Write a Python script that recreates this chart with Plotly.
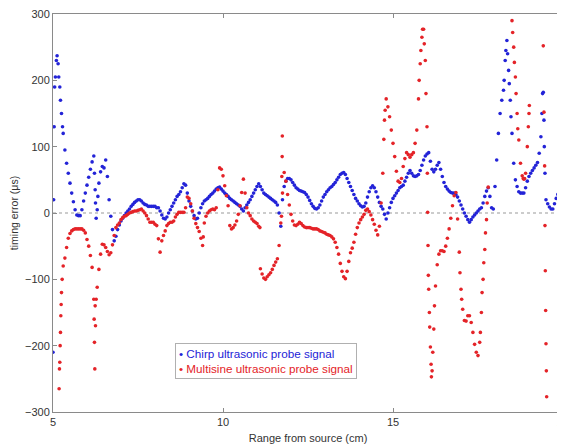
import plotly.graph_objects as go

# ---- data (x grid: 5.00 .. 20.00 step 0.05) ----
x_start = 5.0
x_step = 0.05
x_ticks = [5, 10, 15, 20]
y_ticks = [-300, -200, -100, 0, 100, 200, 300]
series_names = ["Chirp ultrasonic probe signal", "Multisine ultrasonic probe signal"]

chirp_y = [
    -210, 190, 230, 225, 190, 150, 120, 95, 75, 60, 45, 30, 17, 5, -3, -4, -4, 5, 18, 30,
    42, 54, 66, 77, 86, 15, 5, 45, 62, 70, 68, 80, 55, 20, -5, -25, -42, -35, -25, -18,
    -12, -8, -4, 0, 3, 6, 10, 13, 16, 18, 20, 20, 18, 15, 13, 12, 10, 10, 10, 10,
    10, 8, 8, 3, -3, -8, -9, -6, 0, 5, 10, 15, 20, 25, 28, 32, 38, 44, 42, 30,
    18, 10, 3, -4, -9, -8, 0, 8, 14, 18, 20, 22, 25, 28, 30, 33, 36, 38, 39, 36,
    33, 30, 28, 25, 22, 20, 18, 16, 14, 12, 10, 6, 3, 8, 12, 16, 20, 25, 30, 35,
    40, 44, 40, 35, 30, 28, 26, 24, 22, 20, 18, 16, 12, 0, -20, 20, 40, 48, 52, 52,
    50, 46, 42, 38, 36, 34, 33, 32, 31, 28, 24, 19, 14, 10, 7, 6, 8, 12, 18, 24,
    28, 32, 35, 38, 40, 43, 46, 50, 54, 58, 60, 61, 58, 52, 46, 40, 34, 28, 22, 18,
    14, 11, 9, 10, 15, 24, 32, 38, 41, 38, 32, 24, 16, 10, 6, -2, -9, 0, 8, 16,
    22, 26, 30, 34, 38, 40, 42, 48, 54, 60, 64, 60, 56, 55, 56, 58, 64, 72, 80, 86,
    89, 91, 78, 66, 62, 66, 72, 76, 66, 55, 46, 40, 36, 33, 31, 30, 30, 28, 24, 18,
    12, 6, 0, -5, -10, -14, -10, -6, -3, 0, 3, 6, 8, 15, 25, 33, 38, 25, 8, 6,
    40, 80, 120, 150, 170, 185, 230, 260, 215, 170, 120, 75, 50, 40, 32, 30, 30, 30, 38, 48,
    55, 60, 64, 68, 72, 76, 90, 115, 180, 100, 20, 14, 9, 6, 6, 14, 22, 28, 33, 36,
    32,
]

multisine_y = [
    None, None, None, None, -225, -120, -80, -68, -52, -38, -31, -27, -25, -24, -24, -24, -24, -24, -26, -30,
    -40, -50, -64, -82, -130, -170, -112, -85, -62, -47, -48, -52, -58, -63, -60, -48, -34, -22, -18, -15,
    -10, -7, -5, -4, -2, 0, 1, 2, 3, 3, 4, 5, 6, 3, 0, -4, -9, -14, -14, -14,
    -17, -19, -39, -59, -42, -34, -27, -19, -16, -14, -14, -12, -6, -2, 1, 1, 1, 1, 8, 24,
    22, 14, 3, -8, -16, -22, -28, -38, -49, -15, -5, 0, 3, 5, 6, 5, 8, 35, 68, 66,
    56, 41, 26, 11, -19, -24, -22, -18, -12, -2, 11, 31, 51, 30, 8, 0, -4, -9, -12, -14,
    -16, -20, -84, -92, -98, -100, -96, -93, -90, -85, -79, -74, -69, -49, -15, 30, 61, 48, 28, 12,
    -2, -12, -18, -19, -17, -14, -16, -19, -21, -22, -22, -22, -23, -24, -24, -24, -25, -27, -28, -29,
    -30, -32, -33, -34, -36, -39, -44, -52, -62, -76, -88, -96, -99, -88, -73, -60, -53, -44, -32, -22,
    -15, -10, -6, -2, 4, 6, 2, -3, -10, -17, -26, -33, -20, 15, 60, 140, 172, 160, 145, 125,
    105, 85, 63, 48, 46, 52, 70, 82, 91, 88, 84, 88, 91, 105, 125, 172, 225, 265, 277, 230,
    130, -115, -202, -238, -175, -110, -78, -62, -57, -57, -58, -50, -38, -24, -8, 11, 26, 31, -9, -59,
    -115, -145, -162, -163, -155, -155, -165, -180, -198, -210, -215, -195, -150, -100, -55, -10, 39, None, None, None,
    None, None, None, None, None, None, None, None, None, None, 290, 250, 205, 150, 110, 75, 56, 51, 60, 100,
    150, None, None, None, None, None, None, None, None, None, None, None, None, None, None, None, None, None, None, None,
    None,
]

# additional samples in steep sections (between grid points)
chirp_extra_x = [5.02, 5.035, 5.07, 5.12, 5.17, 5.22, 5.28, 6.22, 6.24, 6.27, 6.32,
                 18.27, 18.32, 18.37, 18.42, 18.47, 19.38, 19.42, 19.44, 19.47]
chirp_extra_y = [20, 130, 205, 237, 205, 170, 130, 60, 35, -8, 25,
                 200, 245, 240, 195, 145, 150, 182, 140, 60]

multisine_extra_x = [5.18, 5.19, 5.21, 5.22, 5.23, 5.24, 5.27,
                     6.21, 6.22, 6.23, 6.24, 6.27,
                     9.42, 11.085, 11.72, 11.73, 11.74, 11.745,
                     14.73, 14.77,
                     15.77, 15.82, 15.87, 15.92, 15.97, 16.01, 16.02, 16.03, 16.04,
                     16.07, 16.08, 16.12, 16.13, 16.17, 16.22,
                     16.97, 17.02,
                     17.57, 17.62, 17.67, 17.72, 17.77,
                     18.52, 18.57, 18.62, 18.67, 18.83, 18.87, 18.98, 19.01,
                     19.42, 19.44, 19.46, 19.47, 19.48, 19.49, 19.50, 19.51, 19.52]
multisine_extra_y = [-265, -235, -200, -180, -155, -138, -100,
                     -160, -195, -235, -140, -130,
                     -36, -22, -5, 55, 85, 116,
                     111, 155,
                     200, 245, 277, 255, 180, 60, 1, -49, -94,
                     -150, -172, -228, -247, -210, -140,
                     -90, -130,
                     -180, -120, -75, -30, 15,
                     272, 227, 180, 127, 52, 52, 130, 162,
                     252, 152, 71, -19, -87, -147, -197, -238, -277]


def merge(grid_y, ex, ey):
    gx = [round(x_start + i * x_step, 3) for i in range(len(grid_y))]
    pts = [(a, b) for a, b in zip(gx, grid_y) if b is not None]
    pts += list(zip(ex, ey))
    pts.sort()
    return [p[0] for p in pts], [p[1] for p in pts]


cx, cy = merge(chirp_y, chirp_extra_x, chirp_extra_y)
mx, my = merge(multisine_y, multisine_extra_x, multisine_extra_y)

BLUE = "rgb(35,35,215)"
RED = "rgb(228,35,40)"

fig = go.Figure()
fig.add_trace(go.Scatter(
    x=cx, y=cy, mode="markers", name=series_names[0], showlegend=False,
    marker=dict(size=3.6, color=BLUE, line=dict(width=0)),
))
fig.add_trace(go.Scatter(
    x=mx, y=my, mode="markers", name=series_names[1], showlegend=False,
    marker=dict(size=3.6, color=RED, line=dict(width=0)),
))

# dotted zero reference line
fig.add_shape(type="line", xref="paper", x0=0, x1=1, yref="y", y0=0, y1=0,
              line=dict(color="#999999", width=1, dash="dot"), layer="below")

# legend box (coloured entries, as in the original figure)
legend_text = (
    f'<span style="color:{BLUE}">• {series_names[0]}</span><br>'
    f'<span style="color:{RED}">• {series_names[1]}</span>'
)
fig.add_annotation(
    text=legend_text, xref="paper", yref="paper", x=0.239, y=0.173,
    xanchor="left", yanchor="top", align="left", showarrow=False,
    font=dict(size=11.7), bgcolor="white", bordercolor="#b0b0b0",
    borderwidth=1, borderpad=3,
)

axis_common = dict(
    showline=True, linecolor="#8a8a8a", linewidth=1, mirror="ticks",
    ticks="inside", ticklen=4, tickcolor="#8a8a8a",
    showgrid=False, zeroline=False, automargin=False,
    ticklabeloverflow="allow",
    tickfont=dict(size=11, color="#333333"),
)

fig.update_xaxes(range=[5, 20], tickvals=x_ticks,
                 title=dict(text="Range from source (cm)", font=dict(size=11, color="#333333")),
                 **axis_common)
fig.update_yaxes(range=[-300, 300], tickvals=y_ticks,
                 title=dict(text="timing error (μs)", font=dict(size=10.5, color="#333333")),
                 **axis_common)

# page adds an 8px body margin; figure sized so the plot area lands where the original's does
fig.update_layout(
    width=557, height=436,
    margin=dict(l=45, r=2, t=6, b=32),
    paper_bgcolor="white", plot_bgcolor="white",
    font=dict(family="Liberation Sans, Arial, Helvetica, sans-serif", size=11, color="#333333"),
    showlegend=False,
)

fig.write_html("out.html")
